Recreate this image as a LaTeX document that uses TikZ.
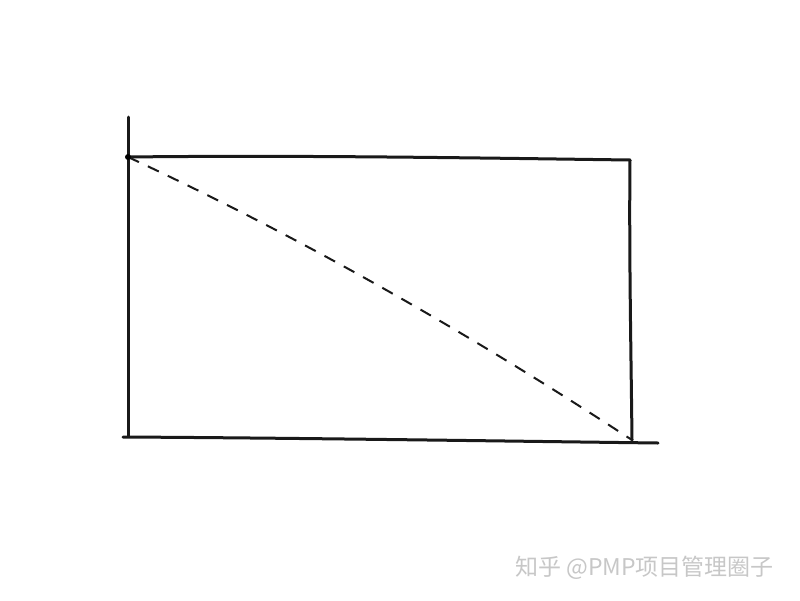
\documentclass[tikz,border=0pt]{standalone}
\usepackage{fontspec}
\newfontfamily\cjk{Noto Sans CJK SC}
\begin{document}
\begin{tikzpicture}[x=1pt,y=-1pt,
  ink/.style={line width=3pt,line cap=round,line join=round,black!90},
  dashline/.style={line width=2pt,dash pattern=on 12pt off 10pt,black!90},
  wm/.style={font=\cjk\fontsize{23}{26}\selectfont,text=black!22,anchor=west,inner sep=0pt}]
\useasboundingbox[fill=white] (0,0) rectangle (800,600);
\coordinate (tl) at (128,157);
\coordinate (tr) at (630,160);
\coordinate (br) at (632,440);
\coordinate (lt) at (128,117);
\coordinate (lb) at (128,436);
\coordinate (bl) at (123,437);
\coordinate (be) at (658,443);
\draw[ink] (lt) -- (lb);
\draw[ink] (tl) .. controls (300,155) and (480,158) .. (tr);
\draw[ink] (tr) .. controls (629,250) and (631,350) .. (br);
\draw[ink] (bl) .. controls (300,438) and (500,441) .. (be);
\draw[dashline] (tl) .. controls (296,235) and (464,330) .. (br);
\fill (tl) circle (3pt);
\node[wm] (w) at (515,568) {知乎 @PMP项目管理圈子};
\end{tikzpicture}
\end{document}
